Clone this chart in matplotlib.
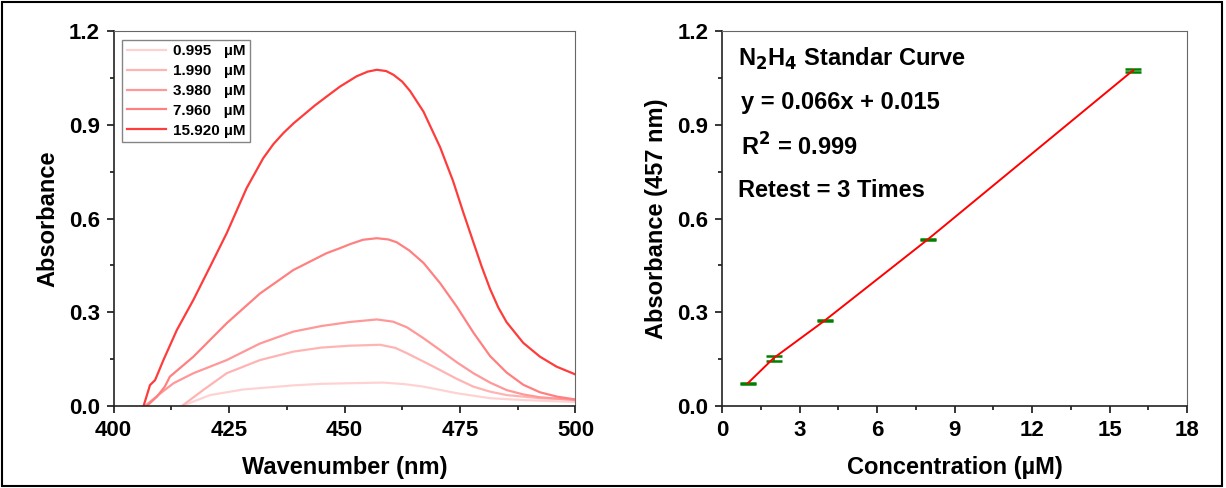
import numpy as np
import matplotlib
matplotlib.use('Agg')
import matplotlib.pyplot as plt
from matplotlib.patches import Rectangle
from matplotlib.ticker import MultipleLocator

plt.rcParams['font.family'] = ['Liberation Sans', 'DejaVu Sans']
plt.rcParams['font.weight'] = 'bold'

# spectra (wavelength nm, absorbance)
wl_15920 = [406.5, 407.9, 409.0, 410.8, 413.7, 417.3, 420.9, 424.5, 428.8, 432.4, 434.6, 436.8, 439.0,
            441.1, 443.6, 446.1, 449.0, 452.6, 455.0, 457.0, 459.0, 460.6, 462.5, 464.2, 467.1, 470.7,
            473.5, 475.7, 477.9, 479.7, 481.5, 483.3, 485.1, 488.7, 492.3, 495.9, 500.0]
ab_15920 = [0.0, 0.067, 0.083, 0.147, 0.243, 0.34, 0.446, 0.553, 0.697, 0.793, 0.838, 0.874, 0.905,
            0.931, 0.962, 0.99, 1.022, 1.055, 1.07, 1.076, 1.072, 1.06, 1.038, 1.008, 0.942, 0.828,
            0.72, 0.62, 0.524, 0.446, 0.375, 0.315, 0.268, 0.202, 0.158, 0.126, 0.101]

wl_7960 = [407.2, 409.4, 411.1, 412.2, 417.3, 424.5, 431.7, 438.9, 446.1, 449.0, 451.2, 454.0, 457.0,
           459.5, 461.3, 464.0, 467.1, 470.7, 474.3, 477.9, 481.5, 485.1, 488.7, 492.3, 496.0, 500.0]
ab_7960 = [0.0, 0.03, 0.062, 0.094, 0.158, 0.265, 0.36, 0.435, 0.489, 0.505, 0.518, 0.532, 0.537,
           0.533, 0.524, 0.498, 0.458, 0.393, 0.318, 0.235, 0.16, 0.107, 0.068, 0.044, 0.03, 0.021]

wl_3980 = [406.8, 410.1, 413.0, 417.3, 424.5, 431.7, 438.9, 445.0, 451.2, 457.0, 460.5, 463.5, 467.0,
           470.7, 474.3, 477.9, 481.5, 485.1, 488.7, 492.3, 500.0]
ab_3980 = [0.0, 0.04, 0.073, 0.105, 0.147, 0.2, 0.238, 0.256, 0.269, 0.277, 0.27, 0.252, 0.218,
           0.179, 0.14, 0.105, 0.075, 0.051, 0.037, 0.028, 0.019]

wl_1990 = [414.8, 419.4, 424.5, 431.7, 438.9, 445.0, 451.2, 457.7, 461.0, 463.5, 467.0, 470.7, 474.3,
           477.9, 481.5, 485.1, 492.3, 500.0]
ab_1990 = [0.0, 0.051, 0.105, 0.147, 0.174, 0.187, 0.193, 0.196, 0.186, 0.169, 0.143, 0.115, 0.087,
           0.062, 0.046, 0.035, 0.025, 0.021]

wl_0995 = [414.8, 420.9, 428.1, 438.9, 445.0, 451.2, 458.4, 463.0, 467.1, 474.3, 481.5, 488.7, 500.0]
ab_0995 = [0.0, 0.035, 0.053, 0.066, 0.071, 0.073, 0.075, 0.07, 0.062, 0.041, 0.025, 0.019, 0.013]

labels = ['0.995   \u00b5M', '1.990   \u00b5M', '3.980   \u00b5M', '7.960   \u00b5M', '15.920 \u00b5M']
colors = ['#ffd2d2', '#ffb4b4', '#ff9898', '#ff8080', '#ff3c3c']

# standard curve
conc = [0.995, 1.99, 3.98, 7.96, 15.92]
absorb = [0.073, 0.153, 0.274, 0.533, 1.075]
err = [0.002, 0.0075, 0.002, 0.003, 0.005]

fig = plt.figure(figsize=(12.26, 4.88), dpi=100)
fig.patches.append(Rectangle((0.002, 0.004), 0.995, 0.992, transform=fig.transFigure,
                             fill=False, edgecolor='black', linewidth=1.5))

ax1 = fig.add_axes([0.0926, 0.168, 0.3768, 0.7684])
ax2 = fig.add_axes([0.589, 0.168, 0.3793, 0.7684])

series = [(wl_0995, ab_0995), (wl_1990, ab_1990), (wl_3980, ab_3980), (wl_7960, ab_7960), (wl_15920, ab_15920)]
for (w, a), c, lab in zip(series, colors, labels):
    ax1.plot(w, a, color=c, lw=1.6, label=lab, solid_joinstyle='round')

ax1.set_xlim(400, 500)
ax1.set_ylim(0, 1.2)
ax1.xaxis.set_major_locator(MultipleLocator(25))
ax1.xaxis.set_minor_locator(MultipleLocator(12.5))
ax1.yaxis.set_major_locator(MultipleLocator(0.3))
ax1.yaxis.set_minor_locator(MultipleLocator(0.15))
ax1.set_xlabel('Wavenumber (nm)', fontsize=17, fontweight='bold', labelpad=11)
ax1.set_ylabel('Absorbance', fontsize=17, fontweight='bold', labelpad=7)
leg = ax1.legend(loc='upper left', bbox_to_anchor=(0.012, 0.985), fontsize=11, frameon=True,
                 fancybox=False, edgecolor='#666666', handlelength=2.6, borderpad=0.3,
                 labelspacing=0.38, handletextpad=0.4, borderaxespad=0.2)
leg.get_frame().set_linewidth(1.0)
for t in leg.get_texts():
    t.set_fontweight('bold')

ax2.errorbar(conc, absorb, yerr=err, color='red', lw=1.4, ecolor='green',
             elinewidth=1.2, capsize=6, capthick=1.8)
ax2.set_xlim(0, 18)
ax2.set_ylim(0, 1.2)
ax2.xaxis.set_major_locator(MultipleLocator(3))
ax2.xaxis.set_minor_locator(MultipleLocator(1.5))
ax2.yaxis.set_major_locator(MultipleLocator(0.3))
ax2.yaxis.set_minor_locator(MultipleLocator(0.15))
ax2.set_xlabel('Concentration (\u00b5M)', fontsize=17, fontweight='bold', labelpad=11)
ax2.set_ylabel('Absorbance (457 nm)', fontsize=17, fontweight='bold', labelpad=7)

ax2.text(0.035, 0.925, 'N$_\\mathbf{2}$H$_\\mathbf{4}$ Standar Curve', transform=ax2.transAxes,
         fontsize=17, fontweight='bold', va='center')
ax2.text(0.04, 0.81, 'y = 0.066x + 0.015', transform=ax2.transAxes, fontsize=17, fontweight='bold', va='center')
ax2.text(0.04, 0.69, 'R$^\\mathbf{2}$ = 0.999', transform=ax2.transAxes, fontsize=17, fontweight='bold', va='center')
ax2.text(0.035, 0.575, 'Retest = 3 Times', transform=ax2.transAxes, fontsize=17, fontweight='bold', va='center')

for ax in (ax1, ax2):
    for s in ('top', 'right'):
        ax.spines[s].set_color('#666666')
    for s in ('left', 'bottom'):
        ax.spines[s].set_color('#222222')
        ax.spines[s].set_linewidth(1.2)
    ax.tick_params(which='both', direction='out', top=False, right=False, labelsize=16, width=1.1)
    ax.tick_params(which='major', length=5, pad=5)
    ax.tick_params(which='minor', length=3)
    ax.yaxis.set_major_formatter(plt.FormatStrFormatter('%.1f'))
    for lab in ax.get_xticklabels() + ax.get_yticklabels():
        lab.set_fontweight('bold')

fig.savefig('out.png', dpi=100)
